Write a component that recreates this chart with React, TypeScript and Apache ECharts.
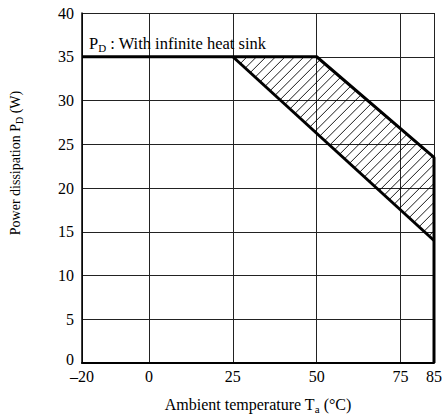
import React, { useEffect, useRef } from 'react';
import * as echarts from 'echarts';

const xTickValues = [-20, 0, 25, 50, 75, 85];
const yMin = 0;
const yMax = 40;
const yStep = 5;
// Rated curve: P_D with infinite heat sink (upper derating line)
const upperCurve: number[][] = [[-20, 35], [50, 35], [85, 23.5], [85, 0]];
// Lower derating line
const lowerCurve: number[][] = [[25, 35], [85, 14]];
// Hatched band between the two derating lines
const hatchRegion: number[][] = [[25, 35], [50, 35], [85, 23.5], [85, 14]];

const FONT = 'Liberation Serif';

export default function App() {
  const ref = useRef<HTMLDivElement>(null);
  useEffect(() => {
    document.body.style.margin = '0';
    if (!ref.current) return;
    const chart = echarts.init(ref.current, undefined, { renderer: 'svg' });
    const mk = (size: number, subSize: number, lh: number) => ({
      n: { fontSize: size, fontFamily: FONT, color: '#000', lineHeight: lh },
      s: { fontSize: subSize, fontFamily: FONT, color: '#000', verticalAlign: 'bottom', lineHeight: lh },
    });
    const option: any = {
      animation: false,
      backgroundColor: '#fff',
      textStyle: { fontFamily: FONT },
      grid: { left: 81, right: 9, top: 13, bottom: 54, containLabel: false },
      xAxis: {
        type: 'value',
        min: -20,
        max: 85,
        name: '{n|Ambient temperature T}{s|a}{n| (°C)}',
        nameLocation: 'middle',
        nameGap: 32,
        nameTextStyle: { fontFamily: FONT, fontSize: 16, rich: mk(16, 11, 19) },
        axisLine: { show: true, onZero: false, lineStyle: { color: '#000', width: 2 } },
        axisTick: { show: false, customValues: xTickValues },
        axisLabel: {
          customValues: xTickValues,
          fontFamily: FONT,
          fontSize: 16,
          color: '#000',
          margin: 5,
          formatter: (v: number) => (v < 0 ? '\u2013' + Math.abs(v) : String(v)),
        },
        splitLine: { show: true, lineStyle: { color: '#222', width: 1 } },
      },
      yAxis: {
        type: 'value',
        min: yMin,
        max: yMax,
        interval: yStep,
        name: '{n|Power dissipation P}{s|D}{n| (W)}',
        nameLocation: 'middle',
        nameGap: 58,
        nameTextStyle: { fontFamily: FONT, fontSize: 14, rich: mk(14, 10, 18), padding: [0, 0, 0, 50] },
        axisLine: { show: true, onZero: false, lineStyle: { color: '#000', width: 1.5 } },
        axisTick: { show: false },
        axisLabel: {
          fontFamily: FONT,
          fontSize: 16,
          color: '#000',
          margin: 8,
          formatter: (v: number) => (v === 0 ? '{z|0}' : String(v)),
          rich: { z: { fontFamily: FONT, fontSize: 16, color: '#000', padding: [0, 0, 8, 0] } },
        },
        splitLine: { show: true, lineStyle: { color: '#222', width: 1 } },
      },
      series: [
        {
          type: 'custom',
          name: 'hatch',
          silent: true,
          clip: false,
          z: 1,
          data: [hatchRegion[0]],
          renderItem: (_params: any, api: any) => {
            const pts = hatchRegion.map((p) => api.coord(p));
            const xs = pts.map((p: number[]) => p[0] + p[1]);
            const cMin = Math.min(...xs);
            const cMax = Math.max(...xs);
            const step = 9.5;
            const children: any[] = [];
            for (let c = cMin + step * 0.5; c < cMax; c += step) {
              const hits: number[][] = [];
              for (let i = 0; i < pts.length; i++) {
                const a = pts[i];
                const b = pts[(i + 1) % pts.length];
                const fa = a[0] + a[1] - c;
                const fb = b[0] + b[1] - c;
                if ((fa <= 0 && fb > 0) || (fa > 0 && fb <= 0)) {
                  const t = fa / (fa - fb);
                  hits.push([a[0] + (b[0] - a[0]) * t, a[1] + (b[1] - a[1]) * t]);
                }
              }
              if (hits.length >= 2) {
                children.push({
                  type: 'line',
                  shape: { x1: hits[0][0], y1: hits[0][1], x2: hits[1][0], y2: hits[1][1] },
                  style: { stroke: '#000', lineWidth: 0.9 },
                });
              }
            }
            return { type: 'group', children };
          },
        },
        {
          type: 'line',
          name: 'upper',
          data: upperCurve,
          showSymbol: false,
          symbol: 'none',
          z: 5,
          lineStyle: { color: '#000', width: 3 },
        },
        {
          type: 'line',
          name: 'lower',
          data: lowerCurve,
          showSymbol: false,
          symbol: 'none',
          z: 5,
          lineStyle: { color: '#000', width: 3 },
        },
      ],
      graphic: [
        {
          type: 'text',
          left: 89,
          top: 35,
          z: 10,
          style: {
            text: '{n|P}{s|D}{n| : With infinite heat sink}',
            rich: mk(16.5, 11, 19),
            fontFamily: FONT,
            fontSize: 16.5,
            fill: '#000',
          },
        },
      ],
    };
    chart.setOption(option);
    return () => chart.dispose();
  }, []);
  return <div ref={ref} style={{ width: 445, height: 419 }} />;
}
